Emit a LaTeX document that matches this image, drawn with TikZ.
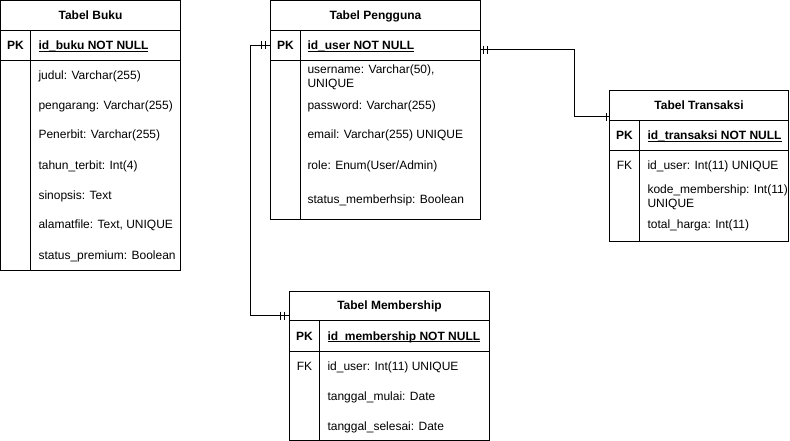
\documentclass[tikz,border=0pt]{standalone}
\usepackage{fontspec}
\setmainfont{Liberation Sans}
\usetikzlibrary{calc}
\newcommand{\ulx}[1]{\setbox0\hbox{#1}\rlap{\rule[-2.2pt]{\wd0}{0.9pt}}\box0}
\begin{document}
\begin{tikzpicture}[x=1pt,y=-1pt,line width=1pt,
 tbl/.style={draw, rectangle, inner sep=0pt, outer sep=0pt, anchor=north west, line width=1pt},
 rowbox/.style={rectangle, inner sep=0pt, outer sep=0pt, anchor=north west},
 txt/.style={anchor=base west, inner sep=0pt, font=\fontsize{12}{14}\selectfont},
 ttl/.style={anchor=base, inner sep=0pt, font=\fontsize{12}{14}\selectfont\bfseries},
 keylbl/.style={anchor=base, inner sep=0pt, font=\fontsize{12}{14}\selectfont},
 pklbl/.style={anchor=base, inner sep=0pt, font=\fontsize{12}{14}\selectfont\bfseries},
 pkname/.style={anchor=base west, inner sep=0pt, font=\fontsize{12}{14}\selectfont\bfseries},
 rel/.style={draw, line width=1pt},
 barmark/.style={line width=1pt}]
\useasboundingbox (0,0) rectangle (790,441);

% ---------- Tabel Buku ----------
\node[tbl, minimum width=180pt, minimum height=270pt] (buku) at (0.5,0.5) {};
\node[rowbox, minimum width=180pt, minimum height=30pt] (bukuPK) at (0.5,30.5) {};
\draw (0.5,30.5) -- (180.5,30.5);
\draw (0.5,60.5) -- (180.5,60.5);
\draw (30.5,30.5) -- (30.5,270.5);
\node[ttl] (bukuT) at (90.5,19.5) {Tabel Buku};
\node[pklbl] (bukuPKl) at (15.5,49.5) {PK};
\node[pkname] (bukuId) at (38,49.5) {\ulx{id\_buku NOT NULL}};
\node[txt] (b1) at (38,80) {judul: Varchar(255)};
\node[txt] (b2) at (38,110) {pengarang: Varchar(255)};
\node[txt] (b3) at (38,139) {Penerbit: Varchar(255)};
\node[txt] (b4) at (38,169) {tahun\_terbit: Int(4)};
\node[txt] (b5) at (38,199) {sinopsis: Text};
\node[txt] (b6) at (38,228) {alamatfile: Text, UNIQUE};
\node[txt] (b7) at (38,259) {status\_premium: Boolean};

% ---------- Tabel Pengguna ----------
\node[tbl, minimum width=210pt, minimum height=219pt] (peng) at (270.5,0.5) {};
\node[rowbox, minimum width=210pt, minimum height=30pt] (pengPK) at (270.5,30.5) {};
\draw (270.5,30.5) -- (480.5,30.5);
\draw (270.5,60.5) -- (480.5,60.5);
\draw (300.5,30.5) -- (300.5,219.5);
\node[ttl] (pengT) at (375.5,20) {Tabel Pengguna};
\node[pklbl] (pengPKl) at (285.5,49.5) {PK};
\node[pkname] (pengId) at (307,49.5) {\ulx{id\_user NOT NULL}};
\node[txt] (p1a) at (307,73.5) {username: Varchar(50),};
\node[txt] (p1b) at (307,87.5) {UNIQUE};
\node[txt] (p2) at (307,110) {password: Varchar(255)};
\node[txt] (p3) at (307,139) {email: Varchar(255) UNIQUE};
\node[txt] (p4) at (307,169) {role: Enum(User/Admin)};
\node[txt] (p5) at (307,204) {status\_memberhsip: Boolean};

% ---------- Tabel Transaksi ----------
\node[tbl, minimum width=179pt, minimum height=151pt] (trans) at (609.5,90.5) {};
\node[rowbox, minimum width=179pt, minimum height=30pt] (transPK) at (609.5,120.5) {};
\draw (609.5,120.5) -- (788.5,120.5);
\draw (609.5,150.5) -- (788.5,150.5);
\draw (639.5,120.5) -- (639.5,241.5);
\node[ttl] (transT) at (699,109.5) {Tabel Transaksi};
\node[pklbl] (transPKl) at (624.5,140) {PK};
\node[pkname] (transId) at (647,140) {\ulx{id\_transaksi NOT NULL}};
\node[keylbl] (transFK) at (624.5,170) {FK};
\node[txt] (t1) at (647,170) {id\_user: Int(11) UNIQUE};
\node[txt] (t2a) at (647,193.5) {kode\_membership: Int(11)};
\node[txt] (t2b) at (647,207.5) {UNIQUE};
\node[txt] (t3) at (647,228.5) {total\_harga: Int(11)};

% ---------- Tabel Membership ----------
\node[tbl, minimum width=200pt, minimum height=149pt] (memb) at (289.5,291.5) {};
\node[rowbox, minimum width=200pt, minimum height=30pt] (membPK) at (289.5,320.5) {};
\draw (289.5,320.5) -- (489.5,320.5);
\draw (289.5,351) -- (489.5,351);
\draw (319.5,320.5) -- (319.5,440.5);
\node[ttl] (membT) at (389.5,309.5) {Tabel Membership};
\node[pklbl] (membPKl) at (304.5,340) {PK};
\node[pkname] (membId) at (327,340) {\ulx{id\_membership NOT NULL}};
\node[keylbl] (membFK) at (304.5,370.5) {FK};
\node[txt] (m1) at (327,370.5) {id\_user: Int(11) UNIQUE};
\node[txt] (m2) at (327,400.5) {tanggal\_mulai: Date};
\node[txt] (m3) at (327,430) {tanggal\_selesai: Date};

% ---------- Connectors ----------
\draw[rel] (pengPK.west) -- ++(-20,0) |- ($(memb.north west)+(0,24)$);
\draw[rel] ($(peng.north east)+(0,49.5)$) -- ++(94,0) |- ($(trans.north west)+(0,26.5)$);

% mandatory-one marks
\draw[barmark] (261,41) -- (261,49) (265,41) -- (265,49);
\draw[barmark] (483.5,46) -- (483.5,54) (487.5,46) -- (487.5,54);
\draw[barmark] (280,311.5) -- (280,319.5) (284,311.5) -- (284,319.5);
\draw[barmark] (606.5,113) -- (606.5,121) (609.5,113) -- (609.5,121);
\end{tikzpicture}
\end{document}
